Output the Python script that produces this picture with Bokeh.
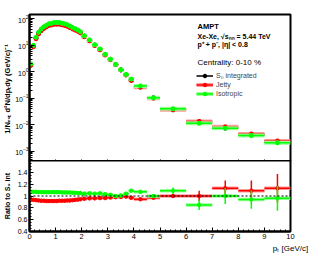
import numpy as np
from bokeh.plotting import figure
from bokeh.layouts import column
from bokeh.models import (FixedTicker, Label, Legend, LegendItem, Span, Range1d,
                          ColumnDataSource, CustomLabelingPolicy)
from bokeh.embed import file_html
from bokeh.resources import INLINE

# ---------------- data ----------------
bin_edges = [0.0, 0.1, 0.2, 0.3, 0.4, 0.5, 0.6, 0.7, 0.8, 0.9, 1.0,
             1.1, 1.2, 1.3, 1.4, 1.5, 1.6, 1.7, 1.8, 1.9, 2.0,
             2.2, 2.4, 2.6, 2.8, 3.0, 3.2, 3.4, 3.6, 3.8, 4.0,
             4.5, 5.0, 6.0, 7.0, 8.0, 9.0, 10.0]

s0_spectrum = [1.85, 9.4, 18.9, 29.0, 38.5, 47.0, 54.0, 61.0, 64.0, 68.0,
               68.0, 68.0, 64.0, 61.0, 56.0, 50.0, 44.5, 40.0, 36.0, 31.0,
               22.0, 15.3, 10.2, 7.0, 4.45, 2.95, 1.9, 1.19, 0.77, 0.49,
               0.275, 0.105, 0.037, 0.0135, 0.0075, 0.0042, 0.0022]

jetty_ratio = [0.945, 0.935, 0.93, 0.925, 0.92, 0.92, 0.915, 0.915, 0.915, 0.915,
               0.915, 0.92, 0.92, 0.92, 0.925, 0.925, 0.93, 0.935, 0.94, 0.945,
               0.955, 0.96, 0.96, 0.965, 0.965, 0.975, 0.98, 0.985, 0.99, 0.97,
               0.945, 0.97, 1.0, 1.0, 1.13, 1.09, 1.13]

iso_ratio = [1.07, 1.07, 1.07, 1.065, 1.065, 1.065, 1.065, 1.065, 1.065, 1.065,
             1.065, 1.065, 1.06, 1.06, 1.06, 1.06, 1.055, 1.055, 1.05, 1.05,
             1.04, 1.045, 1.04, 1.045, 1.03, 1.02, 1.0, 1.01, 1.04, 1.09,
             1.07, 1.0, 1.09, 0.85, 1.0, 0.94, 0.96]

jetty_ratio_err = [0.005, 0.004, 0.004, 0.004, 0.004, 0.004, 0.004, 0.004, 0.004, 0.004,
                   0.004, 0.004, 0.004, 0.004, 0.004, 0.005, 0.005, 0.005, 0.005, 0.006,
                   0.006, 0.007, 0.008, 0.009, 0.01, 0.011, 0.012, 0.013, 0.015, 0.017,
                   0.015, 0.02, 0.035, 0.09, 0.13, 0.17, 0.24]

iso_ratio_err = [0.005, 0.004, 0.004, 0.004, 0.004, 0.004, 0.004, 0.004, 0.004, 0.004,
                 0.004, 0.004, 0.004, 0.004, 0.004, 0.005, 0.005, 0.005, 0.005, 0.006,
                 0.006, 0.007, 0.008, 0.009, 0.01, 0.011, 0.012, 0.013, 0.015, 0.017,
                 0.015, 0.02, 0.055, 0.085, 0.135, 0.155, 0.21]

y_tick_values = [1e-3, 1e-2, 1e-1, 1, 10, 100]
y_tick_labels = ["10⁻³", "10⁻²", "10⁻¹", "1", "10", "10²"]
r_tick_values = [0.4, 0.6, 0.8, 1.0, 1.2, 1.4]
r_tick_labels = ["0.4", "0.6", "0.8", "1", "1.2", "1.4"]
x_tick_values = list(range(0, 11))

# ---------------- derived ----------------
edges = np.array(bin_edges)
lo, hi = edges[:-1], edges[1:]
pt = (lo + hi) / 2
s0 = np.array(s0_spectrum)
jr, ir = np.array(jetty_ratio), np.array(iso_ratio)
jre, ire = np.array(jetty_ratio_err), np.array(iso_ratio_err)
jetty_spec = s0 * jr
iso_spec = s0 * ir

FONT = "Liberation Sans"
RED = "#ff0000"
GREEN = "#00ff00"
RED_H = "#ff9a9a"
GREEN_H = "#9aff9a"

minor_x = [round(0.2 * i, 2) for i in range(0, 51)]
minor_log = [m * 10.0 ** e for e in range(-4, 3) for m in range(2, 10)]
minor_r = [round(0.4 + 0.05 * i, 2) for i in range(0, 25)]

LEFT = 29
RIGHT = 30


def style_common(p):
    p.xgrid.visible = False
    p.ygrid.visible = False
    p.outline_line_color = "black"
    p.outline_line_width = 2
    p.background_fill_color = "white"
    p.border_fill_color = "white"
    for ax in p.axis:
        ax.axis_line_width = 2
        ax.major_tick_out = 0
        ax.minor_tick_out = 0
        ax.major_tick_line_width = 1
        ax.minor_tick_line_width = 1
        ax.major_label_text_font = FONT
        ax.major_label_text_font_size = "7.5px"
        ax.major_label_text_color = "black"
        ax.axis_label_text_font = FONT
        ax.axis_label_text_font_style = "normal"
        ax.axis_label_text_color = "black"


# ---------------- top panel ----------------
top = figure(frame_width=261, frame_height=149, y_axis_type="log",
             x_range=Range1d(0, 10), y_range=Range1d(3.5e-4, 145),
             output_backend="svg", toolbar_location=None,
             min_border_left=LEFT, min_border_right=RIGHT, min_border_top=14, min_border_bottom=0)
style_common(top)
top.xaxis.ticker = FixedTicker(ticks=x_tick_values, minor_ticks=minor_x)
top.xaxis.major_tick_in = 4
top.xaxis.minor_tick_in = 2
top.xaxis.major_label_policy = CustomLabelingPolicy(code="""
    for (const i of indices)
        if (i < 0)
            yield i
""")
top.xaxis.major_label_text_font_size = "1px"
top.xaxis.major_label_standoff = 0
top.xaxis.axis_label_standoff = 0
top.xaxis.axis_label = None
top.yaxis.ticker = FixedTicker(ticks=y_tick_values, minor_ticks=minor_log)
top.yaxis.major_label_overrides = {str(v) if v < 1 else str(int(v)): l for v, l in zip(y_tick_values, y_tick_labels)}
top.yaxis.major_tick_in = 5
top.yaxis.minor_tick_in = 3
top.yaxis.major_label_standoff = 1
top.yaxis.major_label_text_font_size = "7px"
top.yaxis.axis_label = "1/Nₑᵥₜ d²N/dpₜdy (GeV/c)⁻¹"
top.yaxis.axis_label_text_font_size = "7.5px"
top.yaxis.axis_label_text_font_style = "bold"
top.yaxis.axis_label_standoff = 0

src = ColumnDataSource(dict(pt=pt, lo=lo, hi=hi, s0=s0, jet=jetty_spec, iso=iso_spec,
                            jr=jr, ir=ir, jlo=jr - jre, jhi=jr + jre, ilo=ir - ire, ihi=ir + ire))

k_seg = top.segment(x0="lo", x1="hi", y0="s0", y1="s0", source=src, line_color="black", line_width=1.5)
k_pt = top.scatter("pt", "s0", source=src, size=4, color="black")
r_halo = top.segment(x0="lo", x1="hi", y0="jet", y1="jet", source=src, line_color=RED_H, line_width=4)
r_seg = top.segment(x0="lo", x1="hi", y0="jet", y1="jet", source=src, line_color=RED, line_width=1.5)
r_pt = top.scatter("pt", "jet", source=src, size=4, color=RED)
g_halo = top.segment(x0="lo", x1="hi", y0="iso", y1="iso", source=src, line_color=GREEN_H, line_width=4)
g_seg = top.segment(x0="lo", x1="hi", y0="iso", y1="iso", source=src, line_color=GREEN, line_width=1.5)
g_pt = top.scatter("pt", "iso", source=src, size=4, color=GREEN)

legend = Legend(items=[LegendItem(label="S₀ integrated", renderers=[k_seg, k_pt]),
                       LegendItem(label="Jetty", renderers=[r_halo, r_seg, r_pt]),
                       LegendItem(label="Isotropic", renderers=[g_halo, g_seg, g_pt])],
                location=(167, 65), orientation="vertical",
                padding=0, margin=0, spacing=0, glyph_width=17, glyph_height=9,
                label_height=9, label_standoff=3, label_text_font=FONT,
                label_text_font_size="7px", border_line_color=None,
                background_fill_alpha=0)
top.add_layout(legend)


def tlabel(p, x, y, text, size, style="normal"):
    p.add_layout(Label(x=x, y=y, x_units="screen", y_units="screen", text=text,
                       text_font=FONT, text_font_size=size, text_font_style=style,
                       text_color="black", text_baseline="alphabetic", text_align="left"))


tlabel(top, 168, 137, "AMPT", "7.5px", "bold")
tlabel(top, 168, 127, "Xe-Xe, √sₙₙ = 5.44 TeV", "7px", "bold")
tlabel(top, 168, 119, "p⁺ + p⁻, |η| < 0.8", "7px", "bold")
tlabel(top, 168, 101, "Centrality: 0-10 %", "8px", "normal")

# ---------------- ratio panel ----------------
bot = figure(frame_width=261, frame_height=71, x_range=top.x_range,
             y_range=Range1d(0.4, 1.6), output_backend="svg", toolbar_location=None,
             min_border_left=LEFT, min_border_right=RIGHT, min_border_top=0, min_border_bottom=4)
bot.margin = (-7, 0, 0, 0)
style_common(bot)
bot.xaxis.ticker = FixedTicker(ticks=x_tick_values, minor_ticks=minor_x)
bot.xaxis.major_tick_in = 4
bot.xaxis.minor_tick_in = 2
bot.xaxis.major_label_standoff = 2
bot.xaxis.axis_label = "pₜ [GeV/c]"
bot.xaxis.axis_label_text_font_size = "8px"
bot.xaxis.axis_label_standoff = 2
bot.xaxis.axis_label_align = "end"
bot.yaxis.ticker = FixedTicker(ticks=r_tick_values, minor_ticks=minor_r)
bot.yaxis.major_label_overrides = {v: l for v, l in zip(r_tick_values, r_tick_labels)}
bot.yaxis.major_tick_in = 4
bot.yaxis.minor_tick_in = 2
bot.yaxis.major_label_standoff = 2
bot.yaxis.major_label_text_font_size = "7px"
bot.yaxis.axis_label = "Ratio to S₀ int"
bot.yaxis.axis_label_text_font_size = "7px"
bot.yaxis.axis_label_text_font_style = "bold"
bot.yaxis.axis_label_standoff = 4

bot.segment(x0="lo", x1="hi", y0="jr", y1="jr", source=src, line_color=RED_H, line_width=3.5)
bot.segment(x0="lo", x1="hi", y0="jr", y1="jr", source=src, line_color=RED, line_width=1.5)
bot.segment(x0="pt", x1="pt", y0="jlo", y1="jhi", source=src, line_color=RED, line_width=1.5)
bot.scatter("pt", "jr", source=src, size=3.5, color=RED)
bot.segment(x0="lo", x1="hi", y0="ir", y1="ir", source=src, line_color=GREEN_H, line_width=3.5)
bot.segment(x0="lo", x1="hi", y0="ir", y1="ir", source=src, line_color=GREEN, line_width=1.5)
bot.segment(x0="pt", x1="pt", y0="ilo", y1="ihi", source=src, line_color=GREEN, line_width=1.5)
bot.scatter("pt", "ir", source=src, size=3.5, color=GREEN)
bot.add_layout(Span(location=1.0, dimension="width", line_color="black",
                    line_width=1, line_dash="2 2"))

layout = column(top, bot, spacing=0)
open("out.html", "w").write(file_html(layout, INLINE))
